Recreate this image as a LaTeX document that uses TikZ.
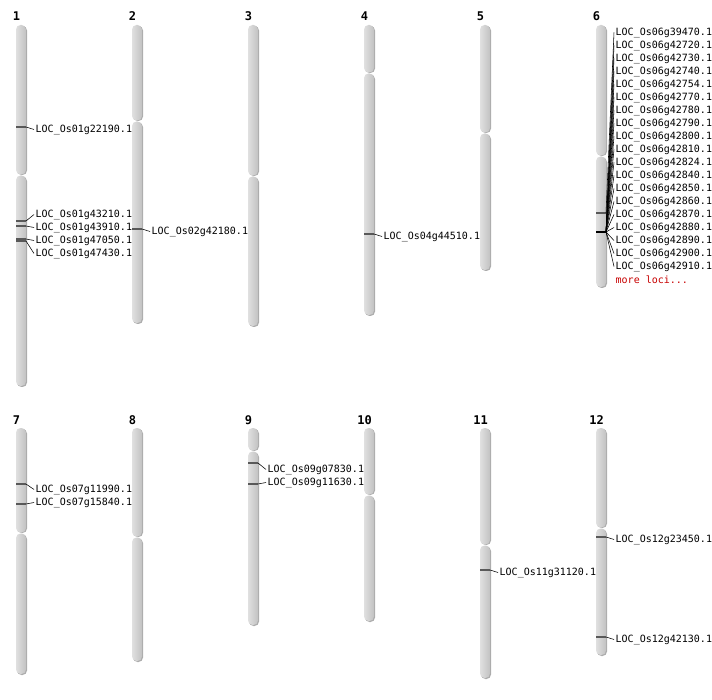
\documentclass[tikz,border=0pt]{standalone}
\usepackage{fontspec}
\setmainfont{DejaVu Sans}
\setmonofont{DejaVu Sans Mono}
\def\loc#1{LOC\_Os#1}
\def\chrom#1#2#3#4#5{
	\fill[gray!65, rounded corners=4.5pt] (#2-4,#3+1) rectangle (#2+6,#4);
	\fill[gray!65, rounded corners=4.5pt] (#2-4,#4+1.5) rectangle (#2+6,#5+1);
	\shade[left color=gray!24, right color=gray!48, rounded corners=4.5pt] (#2-5,#3) rectangle (#2+5,#4-0.5);
	\shade[left color=gray!24, right color=gray!48, rounded corners=4.5pt] (#2-5,#4+0.5) rectangle (#2+5,#5);
	\node[chrnum] (n#1) at (#2-4.5,#3-4) {#1};
}
\tikzset{
	chrnum/.style={font=\ttfamily\bfseries\fontsize{12}{14}\selectfont, anchor=base, inner sep=0pt},
	locus/.style={font=\ttfamily\fontsize{10}{12}\selectfont, anchor=west, inner sep=1.5pt, yshift=-1.5pt},
	band/.style={line width=1.1pt, black!65},
	link/.style={black, line width=0.55pt}
}
\begin{document}
\begin{tikzpicture}[x=1pt, y=-1pt]
				\useasboundingbox (0,0) rectangle (712,700);
				\chrom{1}{21}{25}{175}{386}
				\chrom{2}{137}{25}{121}{323}
				\chrom{3}{253}{25}{176}{326}
				\chrom{4}{369}{25}{73}{315}
				\chrom{5}{485}{25}{133}{270}
				\chrom{6}{601}{25}{156}{287}
				\chrom{7}{21}{428}{533}{674}
				\chrom{8}{137}{428}{537}{661}
				\chrom{9}{253}{428}{451}{625}
				\chrom{10}{369}{428}{495}{621}
				\chrom{11}{485}{428}{545}{678}
				\chrom{12}{601}{428}{528}{655}
				\node[locus] (g22190) at (34,128) {\loc{01g22190.1}};
				\node[locus] (g43210) at (34,213) {\loc{01g43210.1}};
				\node[locus] (g43910) at (34,226) {\loc{01g43910.1}};
				\node[locus] (g47050) at (34,239) {\loc{01g47050.1}};
				\node[locus] (g47430) at (34,252) {\loc{01g47430.1}};
				\node[locus] (g42180) at (150,230) {\loc{02g42180.1}};
				\node[locus] (g44510) at (382,235) {\loc{04g44510.1}};
				\node[locus] (g39470) at (614,31) {\loc{06g39470.1}};
				\node[locus] (g42720) at (614,44) {\loc{06g42720.1}};
				\node[locus] (g42730) at (614,57) {\loc{06g42730.1}};
				\node[locus] (g42740) at (614,70) {\loc{06g42740.1}};
				\node[locus] (g42754) at (614,83) {\loc{06g42754.1}};
				\node[locus] (g42770) at (614,96) {\loc{06g42770.1}};
				\node[locus] (g42780) at (614,109) {\loc{06g42780.1}};
				\node[locus] (g42790) at (614,122) {\loc{06g42790.1}};
				\node[locus] (g42800) at (614,135) {\loc{06g42800.1}};
				\node[locus] (g42810) at (614,148) {\loc{06g42810.1}};
				\node[locus] (g42824) at (614,161) {\loc{06g42824.1}};
				\node[locus] (g42840) at (614,174) {\loc{06g42840.1}};
				\node[locus] (g42850) at (614,187) {\loc{06g42850.1}};
				\node[locus] (g42860) at (614,200) {\loc{06g42860.1}};
				\node[locus] (g42870) at (614,213) {\loc{06g42870.1}};
				\node[locus] (g42880) at (614,226) {\loc{06g42880.1}};
				\node[locus] (g42890) at (614,239) {\loc{06g42890.1}};
				\node[locus] (g42900) at (614,252) {\loc{06g42900.1}};
				\node[locus] (g42910) at (614,265) {\loc{06g42910.1}};
				\node[locus, text=red!78!black] (more) at (614,278) {more loci...};
				\node[locus] (g11990) at (34,488) {\loc{07g11990.1}};
				\node[locus] (g15840) at (34,501) {\loc{07g15840.1}};
				\node[locus] (g07830) at (266,468) {\loc{09g07830.1}};
				\node[locus] (g11630) at (266,481) {\loc{09g11630.1}};
				\node[locus] (g31120) at (498,571) {\loc{11g31120.1}};
				\node[locus] (g23450) at (614,538) {\loc{12g23450.1}};
				\node[locus] (g42130) at (614,638) {\loc{12g42130.1}};
				\coordinate (m22190) at (26,127);
				\coordinate (m43210) at (26,221);
				\coordinate (m43910) at (26,226);
				\coordinate (m47050) at (26,239);
				\coordinate (m47430) at (26,241);
				\coordinate (m42180) at (142,229);
				\coordinate (m44510) at (374,234);
				\coordinate (m39470) at (606,213);
				\coordinate (m42) at (606,232);
				\coordinate (m11990) at (26,484);
				\coordinate (m15840) at (26,504);
				\coordinate (m07830) at (258,463);
				\coordinate (m11630) at (258,484);
				\coordinate (m31120) at (490,570);
				\coordinate (m23450) at (606,537);
				\coordinate (m42130) at (606,637);
				\draw[band] (m22190) -- +(-10,0);
				\draw[band] (m43210) -- +(-10,0);
				\draw[band] (m43910) -- +(-10,0);
				\draw[band] (m47050) -- +(-10,0);
				\draw[band] (m47430) -- +(-10,0);
				\draw[band] (m42180) -- +(-10,0);
				\draw[band] (m44510) -- +(-10,0);
				\draw[band] (m39470) -- +(-10,0);
				\draw[band, black, line width=2pt] (m42) -- +(-10,0);
				\draw[band] (m11990) -- +(-10,0);
				\draw[band] (m15840) -- +(-10,0);
				\draw[band] (m07830) -- +(-10,0);
				\draw[band] (m11630) -- +(-10,0);
				\draw[band] (m31120) -- +(-10,0);
				\draw[band] (m23450) -- +(-10,0);
				\draw[band] (m42130) -- +(-10,0);
				\draw[link] (m22190) -- (g22190.west);
				\draw[link] (m43210) -- (g43210.west);
				\draw[link] (m43910) -- (g43910.west);
				\draw[link] (m47050) -- (g47050.west);
				\draw[link] (m47430) -- (g47430.west);
				\draw[link] (m42180) -- (g42180.west);
				\draw[link] (m44510) -- (g44510.west);
				\draw[link] (m39470) -- (g39470.west);
				\draw[link] (m42) -- (g42720.west);
				\draw[link] (m42) -- (g42730.west);
				\draw[link] (m42) -- (g42740.west);
				\draw[link] (m42) -- (g42754.west);
				\draw[link] (m42) -- (g42770.west);
				\draw[link] (m42) -- (g42780.west);
				\draw[link] (m42) -- (g42790.west);
				\draw[link] (m42) -- (g42800.west);
				\draw[link] (m42) -- (g42810.west);
				\draw[link] (m42) -- (g42824.west);
				\draw[link] (m42) -- (g42840.west);
				\draw[link] (m42) -- (g42850.west);
				\draw[link] (m42) -- (g42860.west);
				\draw[link] (m42) -- (g42870.west);
				\draw[link] (m42) -- (g42880.west);
				\draw[link] (m42) -- (g42890.west);
				\draw[link] (m42) -- (g42900.west);
				\draw[link] (m42) -- (g42910.west);
				\draw[link] (m11990) -- (g11990.west);
				\draw[link] (m15840) -- (g15840.west);
				\draw[link] (m07830) -- (g07830.west);
				\draw[link] (m11630) -- (g11630.west);
				\draw[link] (m31120) -- (g31120.west);
				\draw[link] (m23450) -- (g23450.west);
				\draw[link] (m42130) -- (g42130.west);
			\end{tikzpicture}
\end{document}
